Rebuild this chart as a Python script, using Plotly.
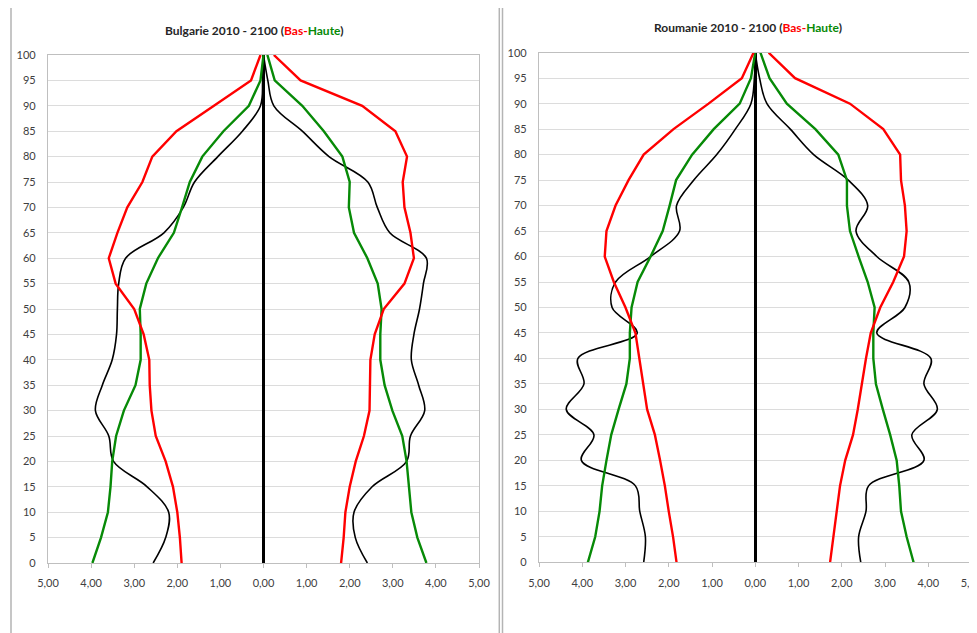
import plotly.graph_objects as go

# ---------------- data ----------------
ages = list(range(0, 101, 5))
x_tickvals = [-5, -4, -3, -2, -1, 0, 1, 2, 3, 4, 5]
x_ticktext = ["5,00", "4,00", "3,00", "2,00", "1,00", "0,00", "1,00", "2,00", "3,00", "4,00", "5,00"]
y_tickvals = list(range(0, 101, 5))

# Bulgarie
bg_2010_left = [2.56, 2.27, 2.20, 2.70, 3.48, 3.59, 3.90, 3.74, 3.51, 3.41, 3.39, 3.36, 3.20, 2.31, 1.86, 1.60, 1.06, 0.49, 0.07, 0.02, 0.0]
bg_2010_right = [2.41, 2.13, 2.10, 2.52, 3.32, 3.41, 3.74, 3.60, 3.43, 3.49, 3.62, 3.71, 3.78, 2.93, 2.64, 2.42, 1.52, 0.90, 0.24, 0.10, 0.0]
bg_bas_left = [1.90, 1.94, 2.00, 2.10, 2.27, 2.50, 2.60, 2.64, 2.65, 2.78, 3.00, 3.43, 3.59, 3.39, 3.16, 2.81, 2.58, 2.02, 1.15, 0.29, 0.07]
bg_bas_right = [1.80, 1.86, 1.90, 2.00, 2.14, 2.33, 2.46, 2.47, 2.48, 2.58, 2.79, 3.27, 3.49, 3.41, 3.27, 3.23, 3.33, 3.06, 2.29, 0.86, 0.24]
bg_haute_left = [3.97, 3.77, 3.61, 3.55, 3.51, 3.42, 3.24, 2.97, 2.85, 2.85, 2.87, 2.72, 2.45, 2.08, 1.89, 1.71, 1.42, 0.93, 0.34, 0.07, 0.0]
bg_haute_right = [3.78, 3.57, 3.43, 3.37, 3.32, 3.22, 2.99, 2.81, 2.71, 2.71, 2.74, 2.65, 2.41, 2.10, 1.98, 2.00, 1.83, 1.40, 0.90, 0.26, 0.09]

# Roumanie
ro_2010_left = [2.58, 2.54, 2.67, 2.77, 4.02, 3.73, 4.37, 3.96, 4.10, 2.73, 3.31, 3.23, 2.42, 1.75, 1.82, 1.42, 0.89, 0.46, 0.10, 0.02, 0.0]
ro_2010_right = [2.44, 2.39, 2.56, 2.62, 3.90, 3.62, 4.21, 3.90, 4.06, 2.81, 3.46, 3.55, 2.81, 2.33, 2.60, 2.15, 1.35, 0.81, 0.27, 0.10, 0.0]
ro_bas_left = [1.82, 1.90, 2.00, 2.09, 2.20, 2.32, 2.50, 2.59, 2.69, 2.77, 3.00, 3.27, 3.48, 3.44, 3.23, 2.93, 2.58, 1.89, 1.08, 0.31, 0.04]
ro_bas_right = [1.73, 1.81, 1.89, 1.96, 2.08, 2.26, 2.37, 2.46, 2.56, 2.67, 2.89, 3.19, 3.44, 3.50, 3.46, 3.37, 3.35, 2.96, 2.19, 0.92, 0.31]
ro_haute_left = [3.87, 3.70, 3.60, 3.54, 3.44, 3.33, 3.16, 2.98, 2.90, 2.90, 2.86, 2.72, 2.42, 2.14, 1.98, 1.83, 1.46, 0.96, 0.36, 0.10, 0.0]
ro_haute_right = [3.66, 3.50, 3.37, 3.33, 3.27, 3.12, 2.95, 2.79, 2.73, 2.73, 2.76, 2.60, 2.39, 2.19, 2.12, 2.12, 1.92, 1.39, 0.73, 0.33, 0.12]

RED = "#FF0000"
GREEN = "#078A07"
BLACK = "#000000"

# page body has an 8px margin: the figure starts at (8, 8) in the window
OFF = 8
W, H = 977 - OFF, 633 - OFF

fig = go.Figure()

def add_panel(xa, ya, black_l, black_r, bas_l, bas_r, haute_l, haute_r):
    for vals, side, color, width, shape in [
        (black_l, -1, BLACK, 1.6, "spline"),
        (black_r, 1, BLACK, 1.6, "spline"),
        (haute_l, -1, GREEN, 2.4, "linear"),
        (haute_r, 1, GREEN, 2.4, "linear"),
        (bas_l, -1, RED, 2.4, "linear"),
        (bas_r, 1, RED, 2.4, "linear"),
    ]:
        fig.add_trace(go.Scatter(
            x=[side * v for v in vals], y=ages, mode="lines",
            line=dict(color=color, width=width, shape=shape, smoothing=1.0),
            xaxis=xa, yaxis=ya, showlegend=False, hoverinfo="skip"))

add_panel("x", "y", bg_2010_left, bg_2010_right, bg_bas_left, bg_bas_right, bg_haute_left, bg_haute_right)
add_panel("x2", "y2", ro_2010_left, ro_2010_right, ro_bas_left, ro_bas_right, ro_haute_left, ro_haute_right)

FONT = "Lato, 'Liberation Sans', sans-serif"
tickfont = dict(family=FONT, size=11, color="#404040")

def xaxis(dom, anchor):
    return dict(domain=dom, anchor=anchor, range=[-5, 5], tickvals=x_tickvals, ticktext=x_ticktext,
                showgrid=False, zeroline=True, zerolinecolor=BLACK, zerolinewidth=2.5,
                showline=True, linecolor="#BFBFBF", linewidth=1.2, mirror=True,
                ticks="outside", ticklen=4, tickcolor="#BFBFBF", tickwidth=1,
                tickfont=tickfont, ticklabelstandoff=6, ticklabeloverflow="allow",
                fixedrange=True, automargin=False)

def yaxis(dom, anchor):
    return dict(domain=dom, anchor=anchor, range=[0, 100], tickvals=y_tickvals,
                showgrid=True, gridcolor="#DCDCDC", gridwidth=1, zeroline=False,
                showline=True, linecolor="#BFBFBF", linewidth=1.2, mirror=True,
                ticks="", tickfont=tickfont, ticklabelstandoff=9, fixedrange=True, automargin=False)

def px_x(p):
    return (p - OFF) / W

def px_y(p):
    return 1 - (p - OFF) / H

fig.update_layout(
    width=W, height=H,
    autosize=False,
    margin=dict(l=0, r=0, t=0, b=0, pad=0, autoexpand=False),
    paper_bgcolor="white", plot_bgcolor="white",
    xaxis=xaxis([px_x(48), px_x(479)], "y"),
    yaxis=yaxis([px_y(563), px_y(55)], "x"),
    xaxis2=xaxis([px_x(539), px_x(971.5)], "y2"),
    yaxis2=yaxis([px_y(562.3), px_y(52.7)], "x2"),
    showlegend=False,
)

# panel frames
border = dict(color="#B4B4B4", width=1.5)
fig.add_shape(type="rect", xref="paper", yref="paper",
              x0=px_x(11), x1=px_x(499.3), y0=px_y(650), y1=px_y(6.5), line=border, layer="below")
fig.add_shape(type="rect", xref="paper", yref="paper",
              x0=px_x(502.5), x1=px_x(990), y0=px_y(650), y1=px_y(4.5), line=border, layer="below")

# titles
def title(country):
    return ("<b>" + country + " 2010 - 2100 (<span style='color:" + RED + "'>Bas-</span>"
            "<span style='color:" + GREEN + "'>Haute</span>)</b>")

fig.add_annotation(text=title("Bulgarie"), xref="paper", yref="paper",
                   x=px_x(255), y=px_y(30), xanchor="center", yanchor="middle",
                   showarrow=False, font=dict(family=FONT, size=12, color="#262626"))
fig.add_annotation(text=title("Roumanie"), xref="paper", yref="paper",
                   x=px_x(747.5), y=px_y(27.5), xanchor="center", yanchor="middle",
                   showarrow=False, font=dict(family=FONT, size=12, color="#262626"))

fig.write_html("out.html")
